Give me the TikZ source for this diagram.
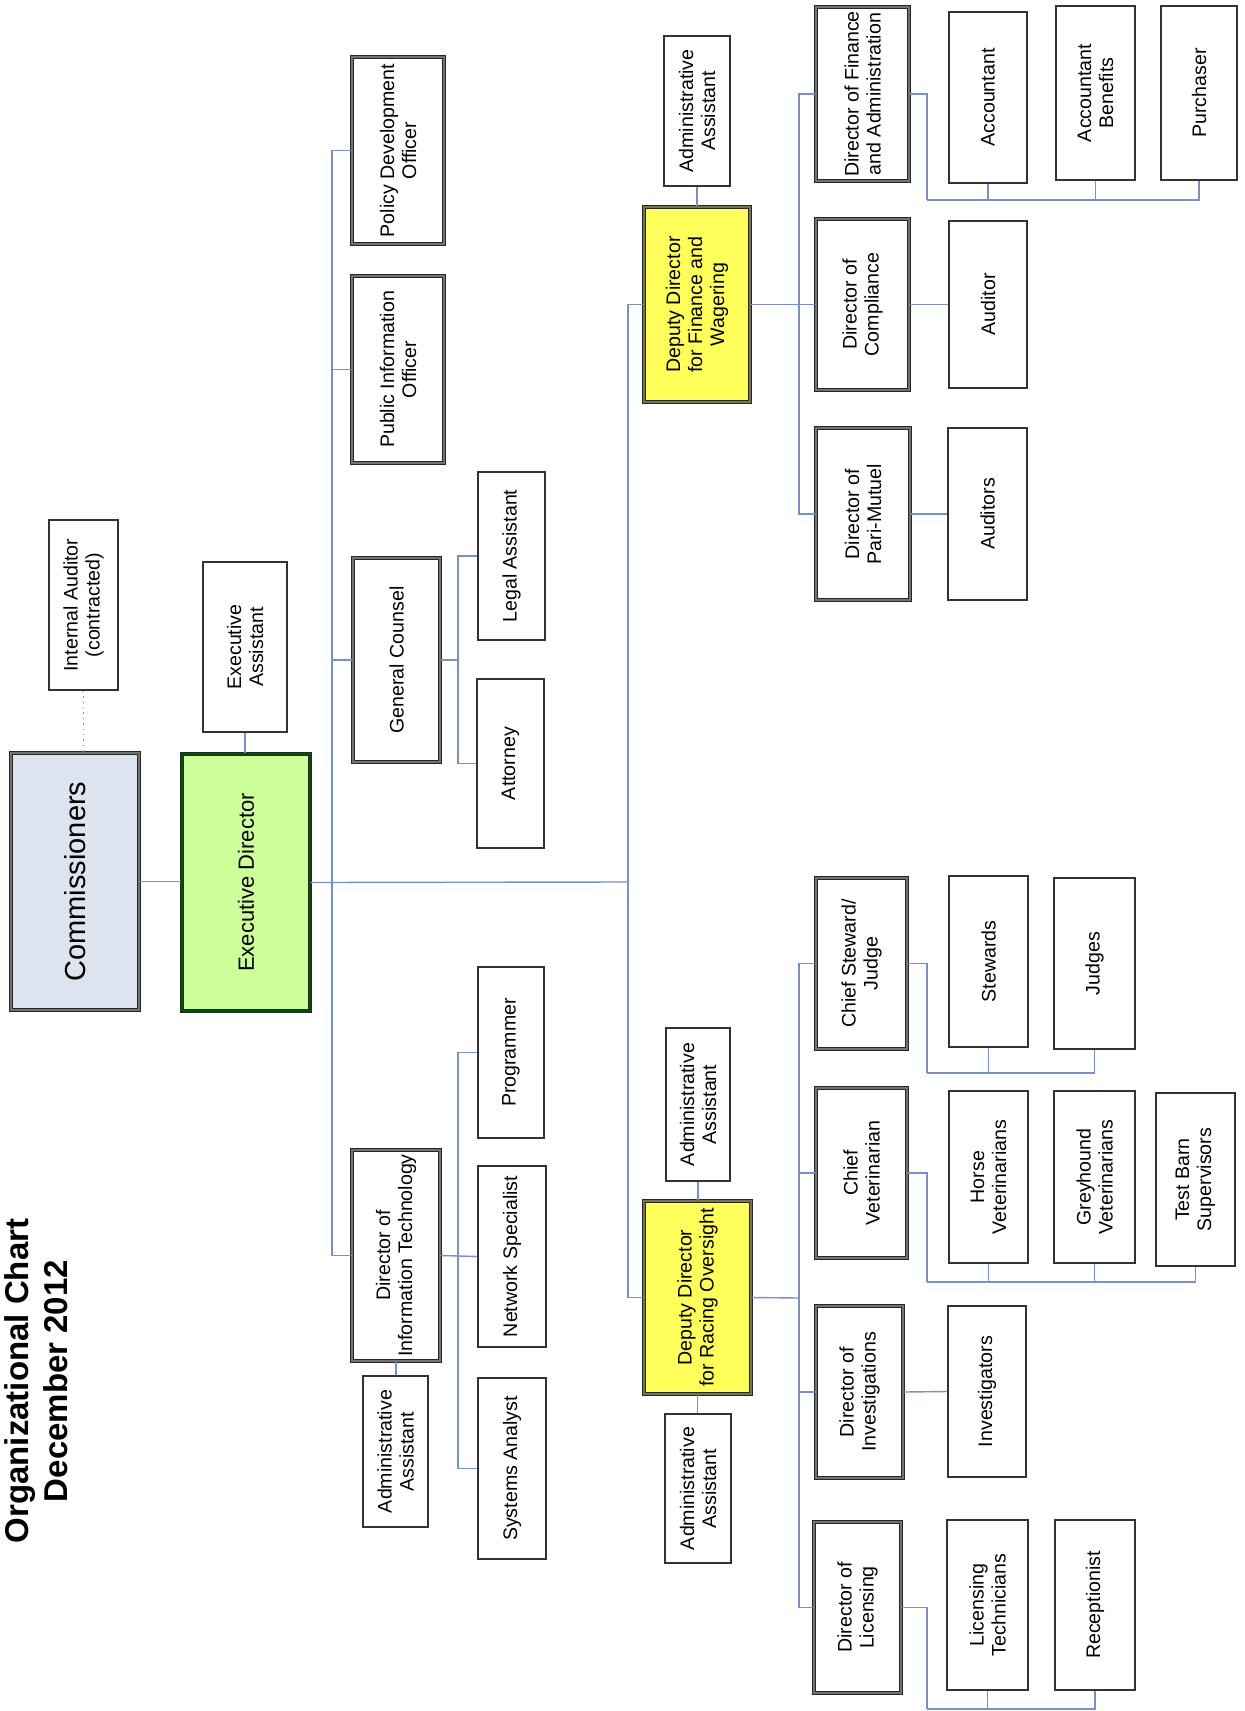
\documentclass[tikz,border=0pt]{standalone}
\usepackage{fontspec}
\setmainfont{Liberation Sans}
\usetikzlibrary{fit}
\definecolor{connc}{HTML}{7A8FC6}
\definecolor{commfill}{HTML}{DDE3EF}
\definecolor{edfill}{HTML}{CCFF99}
\definecolor{ddfill}{HTML}{FFFF5C}
\begin{document}
\begin{tikzpicture}[x=0.5pt,y=-0.5pt,
  pbox/.style={draw=black!80, line width=0.8pt, fill=white, inner sep=0pt},
  dbox/.style={draw=black!85, line width=0.7pt, double=black!55, double distance=0.6pt, fill=white, inner sep=0pt},
  txt/.style={rotate=90, align=center, inner sep=0pt, font=\fontsize{9.8}{11}\selectfont},
  conn/.style={draw=connc, line width=0.7pt}]
\fill[white] (0,0) rectangle (1245,1711);
\useasboundingbox (0,0) rectangle (1245,1711);

% title
\node[txt, font=\fontsize{16.5}{19.5}\selectfont\bfseries] (title) at (36,1381) {Organizational Chart\\December 2012};

% top level
\node[pbox, fit={(49,520)(118,690)}] (ia) {};
\node[txt] (ia-t) at (ia) {Internal Auditor\\(contracted)};
\node[dbox, fill=commfill, double=black!55, fit={(11,753)(139,1010)}] (comm) {};
\node[txt, font=\fontsize{14.5}{17}\selectfont] (comm-t) at (comm) {Commissioners};
\node[pbox, fit={(203,562)(287,732)}] (ea) {};
\node[txt] (ea-t) at (ea) {Executive\\Assistant};
\node[dbox, fill=edfill, draw={black!85}, double={black!45!green!60!black}, fit={(182,754)(310,1011)}] (ed) {};
\node[txt, font=\fontsize{11}{13}\selectfont] (ed-t) at (ed) {Executive Director};

% staff of executive director
\node[dbox, fit={(352,57)(444,244)}] (pdo) {};
\node[txt] (pdo-t) at (pdo) {Policy Development\\Officer};
\node[dbox, fit={(352,276)(444,463)}] (pio) {};
\node[txt] (pio-t) at (pio) {Public Information\\Officer};
\node[dbox, fit={(353,558)(440,762)}] (gc) {};
\node[txt] (gc-t) at (gc) {General Counsel};
\node[pbox, fit={(478,472)(545,640)}] (la) {};
\node[txt] (la-t) at (la) {Legal Assistant};
\node[pbox, fit={(477,679)(544,848)}] (att) {};
\node[txt] (att-t) at (att) {Attorney};

% IT
\node[dbox, fit={(352,1150)(440,1361)}] (it) {};
\node[txt] (it-t) at (it) {Director of\\Information Technology};
\node[pbox, fit={(363,1376)(428,1527)}] (itaa) {};
\node[txt] (itaa-t) at (itaa) {Administrative\\Assistant};
\node[pbox, fit={(478,967)(544,1138)}] (prog) {};
\node[txt] (prog-t) at (prog) {Programmer};
\node[pbox, fit={(478,1166)(546,1347)}] (ns) {};
\node[txt] (ns-t) at (ns) {Network Specialist};
\node[pbox, fit={(478,1378)(546,1559)}] (sa) {};
\node[txt] (sa-t) at (sa) {Systems Analyst};

% Deputy finance
\node[pbox, fit={(664,36)(730,186)}] (faa) {};
\node[txt] (faa-t) at (faa) {Administrative\\Assistant};
\node[dbox, fill=ddfill, draw={black!85}, double={yellow!40!black}, fit={(644,207)(750,402)}] (ddf) {};
\node[txt] (ddf-t) at (ddf) {Deputy Director\\for Finance and\\Wagering};
\node[dbox, fit={(816,7)(909,181)}] (dfa) {};
\node[txt] (dfa-t) at (dfa) {Director of Finance\\and Administration};
\node[dbox, fit={(816,219)(909,390)}] (comp) {};
\node[txt] (comp-t) at (comp) {Director of\\Compliance};
\node[dbox, fit={(816,428)(910,600)}] (dpm) {};
\node[txt] (dpm-t) at (dpm) {Director of\\Pari-Mutuel};
\node[pbox, fit={(949,12)(1027,183)}] (acc) {};
\node[txt] (acc-t) at (acc) {Accountant};
\node[pbox, fit={(1056,6)(1135,180)}] (accb) {};
\node[txt] (accb-t) at (accb) {Accountant\\Benefits};
\node[pbox, fit={(1161,6)(1237,180)}] (pur) {};
\node[txt] (pur-t) at (pur) {Purchaser};
\node[pbox, fit={(949,221)(1027,388)}] (aud) {};
\node[txt] (aud-t) at (aud) {Auditor};
\node[pbox, fit={(948,428)(1027,600)}] (auds) {};
\node[txt] (auds-t) at (auds) {Auditors};

% Deputy racing
\node[pbox, fit={(666,1028)(730,1181)}] (raa1) {};
\node[txt] (raa1-t) at (raa1) {Administrative\\Assistant};
\node[dbox, fill=ddfill, draw={black!85}, double={yellow!40!black}, fit={(644,1201)(751,1394)}] (ddr) {};
\node[txt] (ddr-t) at (ddr) {Deputy Director\\for Racing Oversight};
\node[pbox, fit={(665,1414)(731,1563)}] (raa2) {};
\node[txt] (raa2-t) at (raa2) {Administrative\\Assistant};
\node[dbox, fit={(816,878)(907,1049)}] (cs) {};
\node[txt] (cs-t) at (cs) {Chief Steward/\\Judge};
\node[dbox, fit={(816,1088)(907,1258)}] (cv) {};
\node[txt] (cv-t) at (cv) {Chief\\Veterinarian};
\node[dbox, fit={(816,1306)(903,1478)}] (di) {};
\node[txt] (di-t) at (di) {Director of\\Investigations};
\node[dbox, fit={(814,1522)(901,1693)}] (dl) {};
\node[txt] (dl-t) at (dl) {Director of\\Licensing};
\node[pbox, fit={(949,876)(1028,1047)}] (stw) {};
\node[txt] (stw-t) at (stw) {Stewards};
\node[pbox, fit={(1054,878)(1135,1049)}] (jdg) {};
\node[txt] (jdg-t) at (jdg) {Judges};
\node[pbox, fit={(949,1091)(1028,1263)}] (hv) {};
\node[txt] (hv-t) at (hv) {Horse\\Veterinarians};
\node[pbox, fit={(1054,1091)(1135,1263)}] (gv) {};
\node[txt] (gv-t) at (gv) {Greyhound\\Veterinarians};
\node[pbox, fit={(1156,1093)(1235,1266)}] (tb) {};
\node[txt] (tb-t) at (tb) {Test Barn\\Supervisors};
\node[pbox, fit={(948,1306)(1026,1477)}] (inv) {};
\node[txt] (inv-t) at (inv) {Investigators};
\node[pbox, fit={(947,1520)(1028,1690)}] (lt) {};
\node[txt] (lt-t) at (lt) {Licensing\\Technicians};
\node[pbox, fit={(1055,1520)(1135,1690)}] (rec) {};
\node[txt] (rec-t) at (rec) {Receptionist};

% connectors
\coordinate (busA) at (332,882);
\coordinate (busB) at (628,882);
\coordinate (gcbus) at (458,660);
\coordinate (itbus) at (458,1256);
\coordinate (fbus) at (799,304);
\coordinate (fa1) at (927,200);
\coordinate (rbus) at (799,1298);
\coordinate (cs1) at (927,1073);
\coordinate (cv1) at (927,1282);
\coordinate (dl1) at (927,1709);

\draw[conn, dotted, line width=0.8pt] (ia.south) -- (ia.south |- comm.north);
\draw[conn] (comm.east) -- (comm.east -| ed.west);
\draw[conn] (ea.south) -- (ea.south |- ed.north);
\draw[conn] (ed.east) -- (busB);
\draw[conn] (pdo.west) -| (busA);
\draw[conn] (it.west) -| (busA);
\draw[conn] (pio.west) -- (pio.west -| busA);
\draw[conn] (gc.west) -- (gc.west -| busA);
\draw[conn] (gc.east) -- (gcbus);
\draw[conn] (la.west) -| (gcbus);
\draw[conn] (att.west) -| (gcbus);
\draw[conn] (it.east) -- (ns.west);
\draw[conn] (prog.west) -| (itbus);
\draw[conn] (sa.west) -| (itbus);
\draw[conn] (it.south) -- (it.south |- itaa.north);

\draw[conn] (ddf.west) -| (busB);
\draw[conn] (ddr.west) -| (busB);
\draw[conn] (faa.south) -- (faa.south |- ddf.north);
\draw[conn] (ddf.east) -- (comp.west);
\draw[conn] (dfa.west) -| (fbus);
\draw[conn] (dpm.west) -| (fbus);
\draw[conn] (comp.east) -- (aud.west);
\draw[conn] (dpm.east) -- (auds.west);
\draw[conn] (dfa.east) -| (fa1);
\draw[conn] (acc.south) |- (fa1);
\draw[conn] (accb.south) |- (fa1);
\draw[conn] (pur.south) |- (fa1);

\draw[conn] (raa1.south) -- (raa1.south |- ddr.north);
\draw[conn] (ddr.south) -- (ddr.south |- raa2.north);
\draw[conn] (ddr.east) -- (rbus);
\draw[conn] (cs.west) -| (rbus);
\draw[conn] (cv.west) -| (rbus);
\draw[conn] (di.west) -| (rbus);
\draw[conn] (dl.west) -| (rbus);
\draw[conn] (cs.east) -| (cs1);
\draw[conn] (stw.south) |- (cs1);
\draw[conn] (jdg.south) |- (cs1);
\draw[conn] (cv.east) -| (cv1);
\draw[conn] (hv.south) |- (cv1);
\draw[conn] (gv.south) |- (cv1);
\draw[conn] (tb.south) |- (cv1);
\draw[conn] (di.east) -- (inv.west);
\draw[conn] (dl.east) -| (dl1);
\draw[conn] (lt.south) |- (dl1);
\draw[conn] (rec.south) |- (dl1);
\end{tikzpicture}
\end{document}
